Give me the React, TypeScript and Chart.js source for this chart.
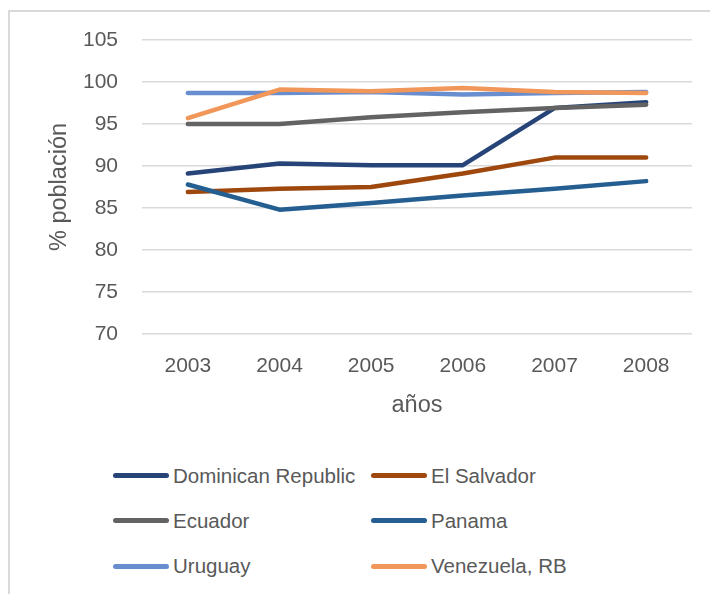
import React, { useEffect, useRef } from 'react';
import { Chart, registerables } from 'chart.js';

Chart.register(...registerables);

const years = ['2003', '2004', '2005', '2006', '2007', '2008'];
const seriesNames = ['Dominican Republic', 'El Salvador', 'Ecuador', 'Panama', 'Uruguay', 'Venezuela, RB'];
const dominicanRepublic = [89.1, 90.3, 90.1, 90.1, 96.9, 97.6];
const elSalvador = [86.9, 87.3, 87.5, 89.1, 91.0, 91.0];
const ecuador = [95.0, 95.0, 95.8, 96.4, 96.9, 97.3];
const panama = [87.8, 84.8, 85.6, 86.5, 87.3, 88.2];
const uruguay = [98.7, 98.7, 98.8, 98.5, 98.7, 98.8];
const venezuela = [95.7, 99.1, 98.9, 99.3, 98.8, 98.7];
const seriesColors = ['#264478', '#9E480E', '#636363', '#255E91', '#698ED0', '#F1975A'];
const yTicks = [70, 75, 80, 85, 90, 95, 100, 105];

const FONT = "'Liberation Sans', Arial, sans-serif";
const TEXT = '#595959';

export default function App() {
  const ref = useRef<HTMLCanvasElement | null>(null);

  useEffect(() => {
    if (!ref.current) return;
    const values = [dominicanRepublic, elSalvador, ecuador, panama, uruguay, venezuela];
    const chart = new Chart(ref.current, {
      type: 'line',
      data: {
        labels: years,
        datasets: values.map((v, i) => ({
          label: seriesNames[i],
          data: v,
          borderColor: seriesColors[i],
          backgroundColor: seriesColors[i],
          borderWidth: 4.5,
          borderCapStyle: 'round' as const,
          borderJoinStyle: 'round' as const,
          pointRadius: 0,
          pointHoverRadius: 0,
          tension: 0,
          fill: false,
          order: values.length - i,
        })),
      },
      options: {
        responsive: false,
        animation: false,
        layout: { padding: { top: 40, right: 18, bottom: 6, left: 0 } },
        plugins: {
          legend: { display: false },
          tooltip: { enabled: false },
          title: { display: false },
        },
        scales: {
          x: {
            offset: true,
            grid: { display: false, drawTicks: false },
            border: { display: false },
            ticks: { color: TEXT, font: { family: FONT, size: 21 }, padding: 20, maxRotation: 0 },
            title: {
              display: true,
              text: 'años',
              color: TEXT,
              font: { family: FONT, size: 23.5 },
              padding: { top: 0, bottom: 14 },
            },
            afterFit: (scale: any) => {
              scale.height = 100;
            },
          },
          y: {
            min: 70,
            max: 105,
            afterBuildTicks: (scale: any) => {
              scale.ticks = yTicks.map((v) => ({ value: v }));
            },
            grid: { color: '#D9D9D9', lineWidth: 1.5, drawTicks: false },
            border: { display: false },
            ticks: { color: TEXT, font: { family: FONT, size: 21 }, padding: 24 },
            title: {
              display: true,
              text: '% población',
              color: TEXT,
              font: { family: FONT, size: 23.5 },
              padding: { top: 45, bottom: 0 },
            },
            afterFit: (scale: any) => {
              scale.width = 142;
            },
          },
        },
      },
    });
    return () => chart.destroy();
  }, []);

  const legendRows = [475.5, 520.5, 566];
  const legendCols = [113, 371];

  return (
    <div style={{ position: 'absolute', left: 0, top: 0, width: 710, height: 594, overflow: 'hidden', background: '#fff' }}>
      <div
        style={{
          position: 'absolute',
          left: 8,
          top: 10,
          width: 702,
          height: 584,
          borderTop: '2px solid #D9D9D9',
          borderLeft: '2px solid #D9D9D9',
          boxSizing: 'border-box',
        }}
      />
      <canvas ref={ref} width={710} height={440} style={{ position: 'absolute', left: 0, top: 0, width: 710, height: 440 }} />
      {seriesNames.map((name, i) => {
        const row = Math.floor(i / 2);
        const col = i % 2;
        return (
          <div
            key={name}
            style={{
              position: 'absolute',
              left: legendCols[col],
              top: legendRows[row] - 15,
              height: 30,
              display: 'flex',
              alignItems: 'center',
              whiteSpace: 'nowrap',
            }}
          >
            <div style={{ width: 56, height: 5, borderRadius: 3, background: seriesColors[i], marginRight: 4 }} />
            <span style={{ fontFamily: FONT, fontSize: 20.5, color: TEXT, lineHeight: '30px' }}>{name}</span>
          </div>
        );
      })}
    </div>
  );
}
